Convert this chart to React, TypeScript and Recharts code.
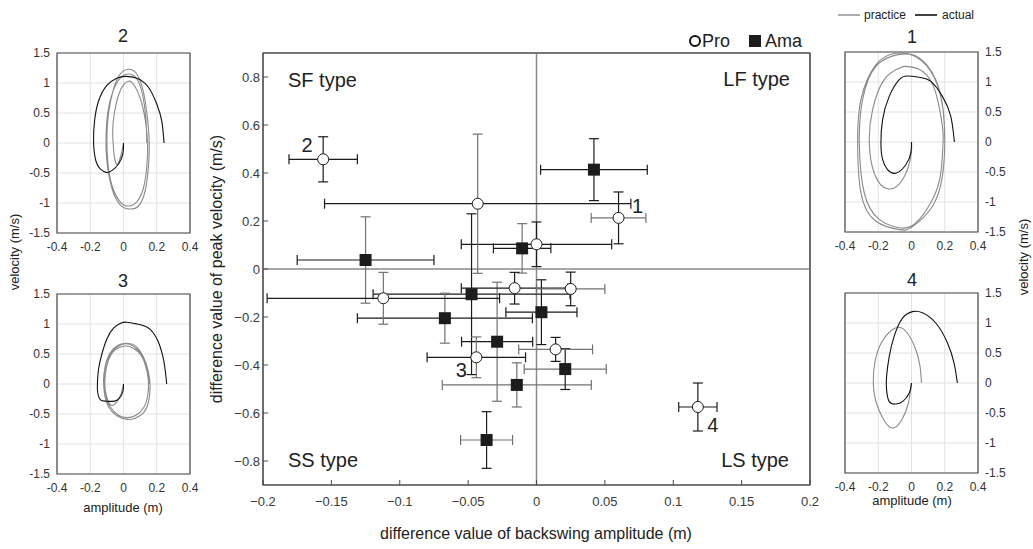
import React from 'react';
import {
  ScatterChart,
  Scatter,
  XAxis,
  YAxis,
  ErrorBar,
  ReferenceLine,
  LineChart,
  Line,
  CartesianGrid,
  ReferenceArea,
} from 'recharts';

const FONT = '"Liberation Sans", Arial, Helvetica, sans-serif';

// main scatter: Pro (open circles)
const proTags = ['2', '', '1', '', '', '', '', '3', '', '4'];
const proX = [-0.156, -0.043, 0.06, 0.0, -0.112, -0.016, 0.025, -0.044, 0.014, 0.118];
const proY = [0.457, 0.272, 0.213, 0.103, -0.122, -0.08, -0.083, -0.368, -0.335, -0.575];
const proXErr = [0.025, 0.112, 0.02, 0.055, 0.085, 0.039, 0.025, 0.036, 0.027, 0.014];
const proYErr = [0.094, 0.29, 0.108, 0.093, 0.108, 0.066, 0.07, 0.085, 0.05, 0.1];

// main scatter: Ama (filled squares)
const amaX = [0.042, -0.0105, -0.125, -0.0475, -0.067, 0.0036, -0.0288, 0.021, -0.0144, -0.0365];
const amaY = [0.414, 0.086, 0.0375, -0.105, -0.205, -0.18, -0.303, -0.417, -0.483, -0.7125];
const amaXErr = [0.039, 0.021, 0.05, 0.072, 0.064, 0.026, 0.026, 0.03, 0.0545, 0.019];
const amaYErr = [0.129, 0.103, 0.18, 0.335, 0.104, 0.135, 0.248, 0.085, 0.092, 0.118];

const mainXTicks = [-0.2, -0.15, -0.1, -0.05, 0, 0.05, 0.1, 0.15, 0.2];
const mainYTicks = [-0.8, -0.6, -0.4, -0.2, 0, 0.2, 0.4, 0.6, 0.8];

// phase plots (amplitude m, velocity m/s)
const ampTicks = [-0.4, -0.2, 0, 0.2, 0.4];
const velTicks = [-1.5, -1, -0.5, 0, 0.5, 1, 1.5];

type Pt = [number, number];

const practice1: Pt[] = [
  [0, 0], [-0.004, -0.24], [-0.054, -0.63], [-0.144, -0.78], [-0.224, -0.52], [-0.254, 0.0],
  [-0.234, 0.54], [-0.164, 1.04], [-0.074, 1.23], [-0.034, 1.26], [0.066, 1.18], [0.146, 0.82],
  [0.186, 0.26], [0.19, 0], [0.176, -0.52], [0.126, -0.96], [0.026, -1.35], [-0.074, -1.43],
  [-0.194, -1.29], [-0.284, -0.85], [-0.314, 0.0], [-0.294, 0.71], [-0.214, 1.26], [-0.074, 1.46],
  [0.046, 1.4], [0.146, 1.04], [0.19, 0.54], [0.2, 0], [0.186, -0.57], [0.126, -1.07],
  [0.006, -1.41], [-0.074, -1.46], [-0.214, -1.32], [-0.304, -0.85], [-0.324, 0.0], [-0.304, 0.71],
  [-0.214, 1.29], [-0.094, 1.48], [0.026, 1.42], [0.136, 1.08], [0.19, 0.54], [0.2, 0.05],
];
const actual1: Pt[] = [
  [0, 0], [-0.004, -0.18], [-0.034, -0.38], [-0.094, -0.52], [-0.144, -0.46], [-0.174, -0.29],
  [-0.184, -0.02], [-0.174, 0.37], [-0.134, 0.76], [-0.074, 1.04], [-0.024, 1.1], [0.046, 1.08],
  [0.116, 1.01], [0.186, 0.76], [0.236, 0.43], [0.258, 0],
];

const practice2: Pt[] = [
  [0, 0], [-0.015, -0.2], [-0.035, -0.35], [-0.05, -0.3], [-0.06, -0.1], [-0.065, 0.2],
  [-0.055, 0.5], [-0.03, 0.8], [0.0, 0.97], [0.03, 1.03], [0.06, 0.98], [0.1, 0.75],
  [0.13, 0.4], [0.145, 0], [0.14, -0.4], [0.12, -0.75], [0.08, -0.98], [0.03, -1.05],
  [-0.02, -0.98], [-0.07, -0.7], [-0.095, -0.3], [-0.1, 0.1], [-0.09, 0.5], [-0.06, 0.9],
  [-0.02, 1.15], [0.03, 1.23], [0.08, 1.15], [0.12, 0.85], [0.145, 0.4], [0.155, 0],
  [0.15, -0.4], [0.13, -0.8], [0.09, -1.05], [0.035, -1.1], [-0.02, -1.03], [-0.07, -0.75],
  [-0.1, -0.3], [-0.105, 0.1], [-0.095, 0.5], [-0.065, 0.85], [-0.02, 1.08], [0.03, 1.15],
  [0.08, 1.07], [0.115, 0.8], [0.135, 0.4], [0.14, 0],
];
const actual2: Pt[] = [
  [0, 0], [-0.004, -0.18], [-0.03, -0.35], [-0.07, -0.46], [-0.104, -0.49], [-0.14, -0.43],
  [-0.166, -0.3], [-0.18, 0], [-0.174, 0.37], [-0.15, 0.7], [-0.1, 0.96], [-0.04, 1.08],
  [0.01, 1.11], [0.08, 1.08], [0.15, 0.93], [0.2, 0.65], [0.23, 0.37], [0.244, 0],
];

const practice3: Pt[] = [
  [0, 0], [-0.02, -0.2], [-0.06, -0.35], [-0.09, -0.3], [-0.11, -0.1], [-0.11, 0.15],
  [-0.09, 0.4], [-0.05, 0.57], [0.0, 0.63], [0.04, 0.62], [0.09, 0.53], [0.13, 0.33],
  [0.15, 0.05], [0.145, -0.2], [0.12, -0.4], [0.07, -0.53], [0.02, -0.56], [-0.03, -0.52],
  [-0.08, -0.38], [-0.11, -0.18], [-0.12, 0.05], [-0.11, 0.3], [-0.08, 0.52], [-0.03, 0.65],
  [0.02, 0.68], [0.07, 0.64], [0.12, 0.45], [0.15, 0.2], [0.16, -0.05], [0.15, -0.3],
  [0.12, -0.48], [0.07, -0.57], [0.02, -0.59], [-0.04, -0.53], [-0.09, -0.38], [-0.115, -0.15],
  [-0.118, 0.1], [-0.1, 0.38], [-0.06, 0.57], [-0.01, 0.66], [0.04, 0.66], [0.09, 0.56],
  [0.13, 0.35], [0.15, 0.1], [0.155, 0],
];
const actual3: Pt[] = [
  [0, 0], [-0.002, -0.1], [-0.015, -0.2], [-0.04, -0.27], [-0.07, -0.29], [-0.11, -0.285],
  [-0.14, -0.26], [-0.155, -0.15], [-0.157, 0], [-0.15, 0.25], [-0.13, 0.5], [-0.1, 0.75],
  [-0.06, 0.93], [-0.02, 1.01], [0.02, 1.03], [0.08, 1.0], [0.14, 0.95], [0.18, 0.85],
  [0.21, 0.7], [0.235, 0.48], [0.25, 0.25], [0.26, 0],
];

const practice4: Pt[] = [
  [0, 0], [-0.02, -0.35], [-0.06, -0.62], [-0.114, -0.75], [-0.17, -0.6], [-0.215, -0.3],
  [-0.23, 0], [-0.22, 0.35], [-0.18, 0.68], [-0.12, 0.88], [-0.074, 0.93], [-0.03, 0.85],
  [0.02, 0.6], [0.05, 0.3], [0.06, 0],
];
const actual4: Pt[] = [
  [0, 0], [-0.014, -0.17], [-0.054, -0.31], [-0.094, -0.35], [-0.134, -0.31], [-0.15, -0.11],
  [-0.15, 0.11], [-0.134, 0.44], [-0.104, 0.78], [-0.054, 1.08], [0.006, 1.19], [0.066, 1.17],
  [0.146, 1.0], [0.216, 0.67], [0.256, 0.33], [0.276, 0],
];

// bar shades (k = black, g = grey), styling only
const proXShade = ['k', 'k', 'g', 'k', 'k', 'k', 'g', 'k', 'g', 'k'];
const proYShade = ['k', 'g', 'k', 'k', 'g', 'k', 'k', 'g', 'k', 'k'];
const amaXShade = ['k', 'k', 'k', 'k', 'k', 'k', 'k', 'g', 'g', 'g'];
const amaYShade = ['k', 'g', 'g', 'k', 'g', 'k', 'g', 'k', 'g', 'k'];

const BLACK = '#1b1b1b';
const GREY = '#727272';
const FRAME = '#4a4a4a';

const tagOffset: Record<string, [number, number]> = {
  '2': [-16, -7],
  '1': [19, -5],
  '3': [-15, 20],
  '4': [15, 25],
};

function buildGroup(xs: number[], ys: number[], exs: number[], eys: number[], xs2: string[], ys2: string[], tags?: string[]) {
  return xs.map((x, i) => ({
    x,
    y: ys[i],
    exK: xs2[i] === 'k' ? exs[i] : undefined,
    exG: xs2[i] === 'g' ? exs[i] : undefined,
    eyK: ys2[i] === 'k' ? eys[i] : undefined,
    eyG: ys2[i] === 'g' ? eys[i] : undefined,
    tag: tags ? tags[i] : '',
  }));
}

const proData = buildGroup(proX, proY, proXErr, proYErr, proXShade, proYShade, proTags);
const amaData = buildGroup(amaX, amaY, amaXErr, amaYErr, amaXShade, amaYShade);

const toRows = (pts: Pt[]) => pts.map(([x, v]) => ({ x, v }));

const fmtMain = (v: number) => (v === 0 ? '0' : String(v).replace('-', '\u2212'));

const renderCircle = (props: any) => {
  const { cx, cy, payload } = props;
  const tag = payload?.tag;
  const off = tag ? tagOffset[tag] : null;
  return (
    <g>
      <circle cx={cx} cy={cy} r={5.5} fill="#fff" stroke={BLACK} strokeWidth={1} />
      {off && (
        <text x={cx + off[0]} y={cy + off[1]} textAnchor="middle" fontSize={20} fill="#222" fontFamily={FONT}>
          {tag}
        </text>
      )}
    </g>
  );
};

const renderSquare = (props: any) => {
  const { cx, cy } = props;
  return <rect x={cx - 6} y={cy - 6} width={12} height={12} fill="#1c1c1c" />;
};

function MainChart() {
  const bars = (
    [
      ['exK', 'x', BLACK],
      ['exG', 'x', GREY],
      ['eyK', 'y', BLACK],
      ['eyG', 'y', GREY],
    ] as const
  ).map(([key, dir, col]) => (
    <ErrorBar key={key} dataKey={key} direction={dir} width={5} stroke={col} strokeWidth={1.2} />
  ));
  return (
    <ScatterChart width={620} height={549} margin={{ top: 52, right: 9, bottom: 34, left: 13 }}>
      <XAxis
        type="number"
        dataKey="x"
        domain={[-0.2, 0.2]}
        ticks={mainXTicks}
        interval={0}
        allowDataOverflow
        height={30}
        tickSize={-5}
        tickMargin={17}
        stroke={FRAME}
        tickFormatter={fmtMain}
        tick={{ fill: '#3a3a3a', fontSize: 13, fontFamily: FONT }}
      />
      <XAxis
        xAxisId="top"
        orientation="top"
        type="number"
        domain={[-0.2, 0.2]}
        ticks={mainXTicks}
        interval={0}
        height={1}
        tickSize={-5}
        stroke={FRAME}
        tickFormatter={() => ''}
      />
      <YAxis
        type="number"
        dataKey="y"
        domain={[-0.9, 0.9]}
        ticks={mainYTicks}
        interval={0}
        allowDataOverflow
        width={50}
        tickSize={-5}
        tickMargin={8}
        stroke={FRAME}
        tickFormatter={fmtMain}
        tick={{ fill: '#3a3a3a', fontSize: 13, fontFamily: FONT }}
      />
      <YAxis
        yAxisId="right"
        orientation="right"
        type="number"
        domain={[-0.9, 0.9]}
        ticks={mainYTicks}
        interval={0}
        width={1}
        tickSize={-5}
        stroke={FRAME}
        tickFormatter={() => ''}
      />
      <ReferenceArea x1={-0.2} x2={0.2} y1={-0.9} y2={0.9} fill="none" fillOpacity={0} stroke={FRAME} strokeWidth={1.2} />
      <ReferenceLine x={0} stroke="#8a8a8a" strokeWidth={1.5} />
      <ReferenceLine y={0} stroke="#8a8a8a" strokeWidth={1.5} />
      <Scatter data={amaData} shape={renderSquare} isAnimationActive={false}>
        {bars}
      </Scatter>
      <Scatter data={proData} shape={renderCircle} isAnimationActive={false}>
        {bars}
      </Scatter>
    </ScatterChart>
  );
}

interface PanelProps {
  plotLeft: number;
  plotTop: number;
  side: 'left' | 'right';
  practice: Pt[];
  actual: Pt[];
}

function Panel({ plotLeft, plotTop, side, practice, actual }: PanelProps) {
  const isLeft = side === 'left';
  const left = isLeft ? plotLeft - 50 : plotLeft - 22;
  const tick = { fill: '#333', fontSize: 12, fontFamily: FONT };
  return (
    <div style={{ position: 'absolute', left, top: plotTop - 10 }}>
      <LineChart
        width={isLeft ? 203 : 205}
        height={215}
        margin={{ top: 10, bottom: 5, left: isLeft ? 5 : 22, right: isLeft ? 20 : 5 }}
      >
        <CartesianGrid stroke="#e2e2e2" />
        <XAxis
          type="number"
          dataKey="x"
          domain={[-0.4, 0.4]}
          ticks={ampTicks}
          interval={0}
          allowDataOverflow
          height={20}
          tickLine={false}
          axisLine={false}
          tickSize={3}
          tickMargin={6}
          tick={tick}
        />
        <YAxis
          type="number"
          dataKey="v"
          orientation={side}
          domain={[-1.5, 1.5]}
          ticks={velTicks}
          interval={0}
          allowDataOverflow
          width={45}
          tickLine={false}
          axisLine={false}
          tickSize={3}
          tickMargin={4}
          tick={tick}
        />
        <ReferenceArea x1={-0.4} x2={0.4} y1={-1.5} y2={1.5} fill="none" fillOpacity={0} stroke={FRAME} strokeWidth={1.2} />
        <Line data={toRows(practice)} dataKey="v" type="natural" stroke="#8a8a8a" strokeWidth={1.1} dot={false} isAnimationActive={false} />
        <Line data={toRows(actual)} dataKey="v" type="natural" stroke="#111" strokeWidth={1.1} dot={false} isAnimationActive={false} />
      </LineChart>
    </div>
  );
}

export default function App() {
  const txt = { fontFamily: FONT, fill: '#222' };
  return (
    <div style={{ position: 'absolute', left: 0, top: 0, width: 1033, height: 549, background: '#fff', fontFamily: FONT }}>
      <Panel plotLeft={57} plotTop={53} side="left" practice={practice2} actual={actual2} />
      <Panel plotLeft={57} plotTop={294} side="left" practice={practice3} actual={actual3} />
      <Panel plotLeft={845} plotTop={52} side="right" practice={practice1} actual={actual1} />
      <Panel plotLeft={845} plotTop={293} side="right" practice={practice4} actual={actual4} />
      <div style={{ position: 'absolute', left: 200, top: 0 }}>
        <MainChart />
      </div>
      <svg width={1033} height={549} style={{ position: 'absolute', left: 0, top: 0, pointerEvents: 'none' }}>
        {/* quadrant names */}
        <text x={288} y={87} fontSize={20} {...txt}>SF type</text>
        <text x={790} y={86} fontSize={20} textAnchor="end" {...txt}>LF type</text>
        <text x={288} y={467} fontSize={20} {...txt}>SS type</text>
        <text x={789} y={467} fontSize={20} textAnchor="end" {...txt}>LS type</text>

        {/* main axis titles */}
        <text transform="translate(216,269) rotate(-90)" textAnchor="middle" dominantBaseline="central" fontSize={16} {...txt}>
          difference value of peak velocity (m/s)
        </text>
        <text x={536} y={533} textAnchor="middle" dominantBaseline="central" fontSize={16} {...txt}>
          difference value of backswing amplitude (m)
        </text>

        {/* Pro / Ama legend */}
        <circle cx={695} cy={41} r={5} fill="#fff" stroke="#111" strokeWidth={2} />
        <text x={702} y={41} dominantBaseline="central" fontSize={18} {...txt}>Pro</text>
        <rect x={749} y={35} width={12} height={12} fill="#1c1c1c" />
        <text x={765} y={41} dominantBaseline="central" fontSize={18} {...txt}>Ama</text>

        {/* practice / actual legend */}
        <line x1={838} x2={860} y1={15} y2={15} stroke="#8a8a8a" strokeWidth={1.4} />
        <text x={864} y={15} dominantBaseline="central" fontSize={12} {...txt}>practice</text>
        <line x1={915} x2={937} y1={15} y2={15} stroke="#111" strokeWidth={1.6} />
        <text x={942} y={15} dominantBaseline="central" fontSize={12} {...txt}>actual</text>

        {/* panel titles */}
        <text x={123} y={36} textAnchor="middle" dominantBaseline="central" fontSize={18} {...txt}>2</text>
        <text x={123} y={281} textAnchor="middle" dominantBaseline="central" fontSize={18} {...txt}>3</text>
        <text x={912} y={37} textAnchor="middle" dominantBaseline="central" fontSize={18} {...txt}>1</text>
        <text x={912} y={280} textAnchor="middle" dominantBaseline="central" fontSize={18} {...txt}>4</text>

        {/* panel axis titles */}
        <text transform="translate(14,252) rotate(-90)" textAnchor="middle" dominantBaseline="central" fontSize={13} {...txt}>
          velocity (m/s)
        </text>
        <text transform="translate(1023,257) rotate(-90)" textAnchor="middle" dominantBaseline="central" fontSize={13} {...txt}>
          velocity (m/s)
        </text>
        <text x={123} y={507} textAnchor="middle" dominantBaseline="central" fontSize={13} {...txt}>amplitude (m)</text>
        <text x={912} y={500} textAnchor="middle" dominantBaseline="central" fontSize={13} {...txt}>amplitude (m)</text>
      </svg>
    </div>
  );
}
